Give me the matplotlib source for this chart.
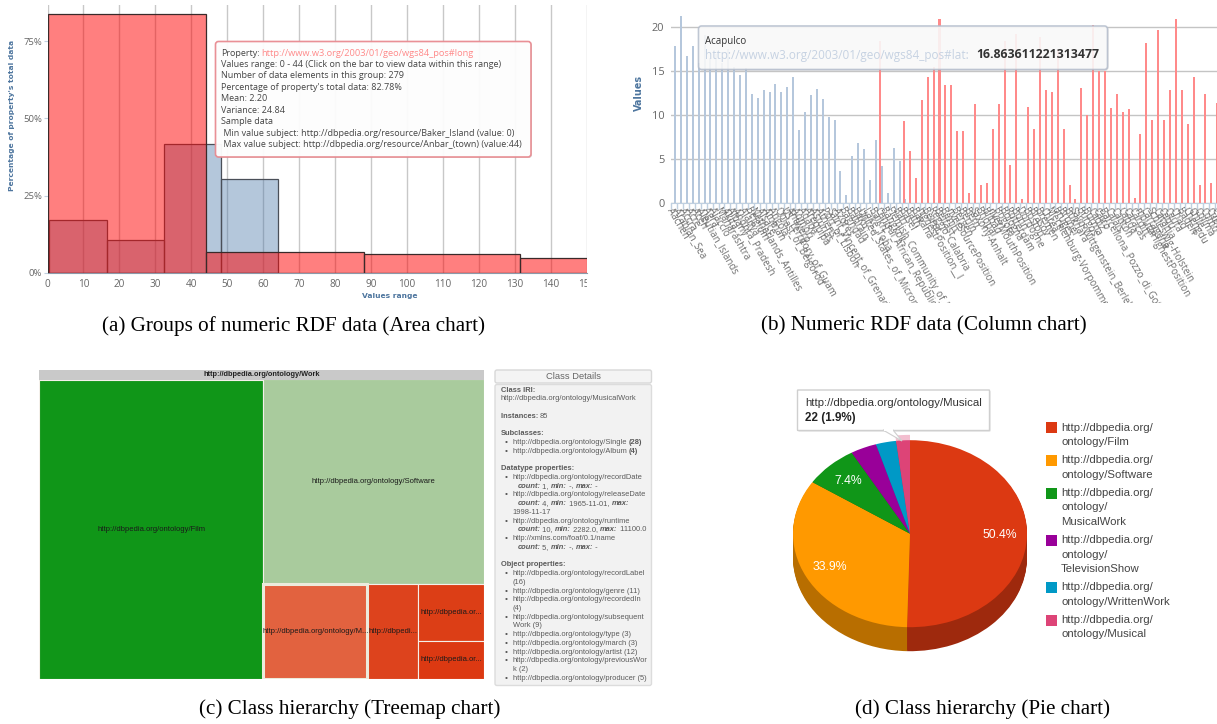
# -*- coding: utf-8 -*-
#%% Get relevent modules

import matplotlib
matplotlib.use("Agg")
import matplotlib.pyplot as plt
from matplotlib.patches import Rectangle, FancyBboxPatch, Polygon
from matplotlib.colors import to_rgb

W = 1217
H = 724

#%% Data

# (a) groups of numeric data
a_red_edges = [0, 44, 88, 131.5, 175]
a_red_pct = [83.7, 6.7, 6.0, 4.7]
a_blue_edges = [0.5, 16.5, 32.3, 48.2, 64]
a_blue_pct = [17, 10.7, 41.7, 30.3]
a_xticks = list(range(0, 160, 10))
a_yticks = [0, 25, 50, 75]
a_yticklabels = ["0%", "25%", "50%", "75%"]
a_tooltip = ["Values range: 0 - 44 (Click on the bar to view data within this range)",
             "Number of data elements in this group: 279",
             "Percentage of property's total data: 82.78%",
             "Mean: 2.20",
             "Variance: 24.84",
             "Sample data",
             " Min value subject: http://dbpedia.org/resource/Baker_Island (value: 0)",
             " Max value subject: http://dbpedia.org/resource/Anbar_(town) (value:44)"]

# (b) numeric data, one category per tick. blue first, red takes over at idx 35
b_blue = [17.85, 21.3, 16.7, 17.85, 16.0, 19.1, 16.5, 17.0, 16.0, 17.5,
          15.5, 14.6, 15.4, 12.45, 11.95, 12.85, 12.65, 13.6, 12.65, 13.2,
          14.4, 8.35, 10.4, 12.35, 12.95, 11.9, 9.75, 9.4, 3.7, 0.95,
          5.4, 6.8, 6.2, 2.6, 7.2, 4.2, 1.15, 6.3, 4.75, 0.45]
b_red_first = [18.4, 0, 0, 0]
b_red = [9.3, 5.95, 2.8, 11.75, 14.3, 15.5, 20.9, 13.4, 13.4, 8.15,
         8.25, 1.1, 11.3, 2.1, 2.3, 8.45, 11.25, 18.4, 4.3, 19.3,
         0.5, 10.9, 8.45, 18.9, 12.85, 12.6, 17.4, 8.45, 2.0, 0.4,
         13.05, 10.0, 20.3, 15.0, 15.0, 10.8, 12.4, 10.4, 10.7, 0.55,
         7.85, 18.25, 9.4, 19.65, 9.4, 12.9, 21.0, 12.9, 9.05, 14.3,
         2.0, 12.4, 2.25, 11.4]
b_labels = ["Aachen", "Arabian_Sea", "Accra", "Acre", "Aceh", "Aleutian_Islands", "Agra", "Ajaccio",
            "Maharashtra", "Akita", "Albany", "Andhra_Pradesh", "Alanya", "Belgium",
            "Netherlands_Antilles", "Alsace", "Amman", "Angola", "Oblast_of_Belgorod",
            "US_Territory_of_Guam", "Antwerp", "Aomori", "Aqaba", "Arequipa", "Asturias", "Athens",
            "Port_of_Lisbon", "Saint_Vincent_of_Grenadines", "Azores", "Baghdad", "Bahrain", "Baku",
            "United_States_of_Micronesia", "Lake_Toba", "Balkh", "Central_African_Republic", "Bangkok",
            "Flemish_Community_of_Belgium", "Bari", "Basel", "Bath", "Bavaria", "highestPosition__l",
            "Beirut", "Reggio_Calabria", "Belfast", "Benin", "riverSourcePosition", "Bergen", "Berlin",
            "Bern", "Saxony-Anhalt", "Bhopal", "Bilbao", "riverMouthPosition", "Bogota", "Bologna",
            "Rotterdam", "Bonn", "Dordogne", "Boston", "Brasov", "Bremen", "Chrea",
            "Mecklenburg-Vorpommern", "Bruges", "Brunei", "Bukhara", "Sayn-Wittgenstein_Berleburg",
            "Burgos", "Burma", "Cadiz", "Cairo", "Barcellona_Pozzo_di_Gotto", "Calais", "Canton",
            "Capua", "Caracas", "Cardiff", "mouthHighestPosition", "Cartagena", "Schleswig-Holstein",
            "Catania", "Cebu", "Ceuta", "Chad", "Baden", "Chengdu", "Chile", "Colima", "Como",
            "Cuba", "Cyprus"]
b_yticks = [0, 5, 10, 15, 20]

# (c) and (d) share the same classes
class_values = [50.4, 33.9, 7.4, 3.6, 2.8, 1.9]
pie_colors = ["#dc3912", "#ff9900", "#109618", "#990099", "#0099c6", "#dd4477"]
tree_colors = ["#109618", "#a9cb9d", "#e2623f", "#dd431d", "#dc3e16", "#dc3912"]
tree_labels = ["http://dbpedia.org/ontology/Film", "http://dbpedia.org/ontology/Software",
               "http://dbpedia.org/ontology/M...", "http://dbpedi...",
               "http://dbpedia.or...", "http://dbpedia.or..."]
legend_labels = [["http://dbpedia.org/", "ontology/Film"],
                 ["http://dbpedia.org/", "ontology/Software"],
                 ["http://dbpedia.org/", "ontology/", "MusicalWork"],
                 ["http://dbpedia.org/", "ontology/", "TelevisionShow"],
                 ["http://dbpedia.org/", "ontology/WrittenWork"],
                 ["http://dbpedia.org/", "ontology/Musical"]]

# class details panel: indent kind and text runs, None is an empty line
details = [("head", [("Class IRI:", "b")]),
           ("head", [("http://dbpedia.org/ontology/MusicalWork", "n")]),
           None,
           ("head", [("Instances: ", "b"), ("85", "n")]),
           None,
           ("head", [("Subclasses:", "b")]),
           ("item", [("http://dbpedia.org/ontology/Single ", "n"), ("(28)", "b")]),
           ("item", [("http://dbpedia.org/ontology/Album ", "n"), ("(4)", "b")]),
           None,
           ("head", [("Datatype properties:", "b")]),
           ("item", [("http://dbpedia.org/ontology/recordDate", "n")]),
           ("sub", [("count:", "bi"), (" 1, ", "n"), ("min:", "bi"), (" -, ", "n"), ("max:", "bi"), (" -", "n")]),
           ("item", [("http://dbpedia.org/ontology/releaseDate", "n")]),
           ("sub", [("count:", "bi"), (" 4, ", "n"), ("min:", "bi"), (" 1965-11-01, ", "n"), ("max:", "bi")]),
           ("wrap", [("1998-11-17", "n")]),
           ("item", [("http://dbpedia.org/ontology/runtime", "n")]),
           ("sub", [("count:", "bi"), (" 10, ", "n"), ("min:", "bi"), (" 2282.0, ", "n"), ("max:", "bi"), (" 11100.0", "n")]),
           ("item", [("http://xmlns.com/foaf/0.1/name", "n")]),
           ("sub", [("count:", "bi"), (" 5, ", "n"), ("min:", "bi"), (" -, ", "n"), ("max:", "bi"), (" -", "n")]),
           None,
           ("head", [("Object properties:", "b")]),
           ("item", [("http://dbpedia.org/ontology/recordLabel", "n")]),
           ("wrap", [("(16)", "n")]),
           ("item", [("http://dbpedia.org/ontology/genre (11)", "n")]),
           ("item", [("http://dbpedia.org/ontology/recordedIn", "n")]),
           ("wrap", [("(4)", "n")]),
           ("item", [("http://dbpedia.org/ontology/subsequent", "n")]),
           ("wrap", [("Work (9)", "n")]),
           ("item", [("http://dbpedia.org/ontology/type (3)", "n")]),
           ("item", [("http://dbpedia.org/ontology/march (3)", "n")]),
           ("item", [("http://dbpedia.org/ontology/artist (12)", "n")]),
           ("item", [("http://dbpedia.org/ontology/previousWor", "n")]),
           ("wrap", [("k (2)", "n")]),
           ("item", [("http://dbpedia.org/ontology/producer (5)", "n")])]

#%% Helpers

fig = plt.figure(figsize=(W / 100, H / 100), dpi=100, facecolor="white")

def px_axes(left, top, right, bottom):
    # axes from picture pixels
    return fig.add_axes([left / W, 1 - bottom / H, (right - left) / W, (bottom - top) / H])

def pt(px):
    return px * 0.72

# overlay in picture pixels for tooltips, legends and captions
over = fig.add_axes([0, 0, 1, 1], zorder=10)
over.set_xlim(0, W)
over.set_ylim(H, 0)
over.axis("off")

def put(x, y, s, size, color="#444444", family="Liberation Sans", **kw):
    kw.setdefault("va", "center")
    return over.text(x, y, s, fontsize=pt(size), color=color, family=family, zorder=20, **kw)

def runs(x, y, parts, size, color, family="Liberation Sans"):
    # text with mixed weights on one line
    renderer = fig.canvas.get_renderer()
    for s, style in parts:
        t = put(x, y, s, size, color, family,
                fontweight="bold" if "b" in style else "normal",
                fontstyle="italic" if "i" in style else "normal")
        x += t.get_window_extent(renderer).width

def box(x0, y0, x1, y1, face, edge, alpha=1.0, lw=1.0, radius=3, shadow=True):
    if shadow:
        over.add_patch(FancyBboxPatch((x0 + 1, y0 + 1), x1 - x0, y1 - y0, boxstyle="round,pad=0,rounding_size=%g" % radius,
                                      fc="#888888", ec="none", alpha=0.3, zorder=15))
    over.add_patch(FancyBboxPatch((x0, y0), x1 - x0, y1 - y0, boxstyle="round,pad=0,rounding_size=%g" % radius,
                                  fc=face, ec=edge, lw=lw, alpha=alpha, zorder=16))

#%% (a) Area chart

ax = px_axes(47.5, 5, 587, 273)
grid_gray = "#c8c8c8"
ax.bar(a_blue_edges[:-1], a_blue_pct, width=[b - a for a, b in zip(a_blue_edges[:-1], a_blue_edges[1:])],
       align="edge", facecolor=(0.27, 0.45, 0.65, 0.4), edgecolor="#4a4f58", linewidth=0.9, zorder=2)
ax.bar(a_red_edges[:-1], a_red_pct, width=[b - a for a, b in zip(a_red_edges[:-1], a_red_edges[1:])],
       align="edge", facecolor=(1, 0, 0, 0.5), edgecolor="#3a2a2a", linewidth=0.9, zorder=3)
ax.set_xlim(0, 149.9)
ax.set_ylim(0, 86.7)
ax.set_xticks(a_xticks)
ax.set_xticklabels([str(v) for v in a_xticks], clip_on=False)
ax.set_yticks(a_yticks)
ax.set_yticklabels(a_yticklabels)
ax.grid(axis="x", color=grid_gray, linewidth=1, zorder=0)
ax.set_axisbelow(True)
ax.tick_params(axis="x", length=0, labelsize=pt(10), labelcolor="#666666", pad=4)
ax.tick_params(axis="y", length=3, color="#c0d0e0", labelsize=pt(9.5), labelcolor="#666666", pad=1)
for side in ["top", "right", "left"]:
    ax.spines[side].set_visible(False)
ax.spines["bottom"].set_color("#8a9aaa")
for lab in ax.get_xticklabels() + ax.get_yticklabels():
    lab.set_family("Open Sans")

put(12, 115, "Percentage of property's total data", 7.5, "#4d759e", "DejaVu Sans", rotation=90,
    ha="center", fontweight="bold")
put(390, 296, "Values range", 7.5, "#4d759e", "DejaVu Sans", ha="center", fontweight="bold")
over.add_patch(Rectangle((587, 276), 12, 14, fc="white", ec="none", zorder=12))

box(215.5, 41.5, 531, 157, "white", "#e88a90", alpha=0.95, lw=1.2)
a_y = 53
put(221, a_y, "Property:", 9.05, "#444444", "Open Sans")
put(261, a_y, "http://www.w3.org/2003/01/geo/wgs84_pos#long", 9.25, "#ff8a8a", "Open Sans")
for i, line in enumerate(a_tooltip):
    put(221, a_y + 11.45 * (i + 1), line, 9.05, "#444444", "Open Sans")

#%% (b) Column chart

ax = px_axes(671.3, 5, 1218, 203)
b_pos = list(range(len(b_labels)))
b_red_all = [0] * 35 + b_red_first + b_red
ax.bar([p + 0.12 for p in b_pos[:len(b_blue)]], b_blue, width=0.34, color="#b5c7dc", zorder=2)
ax.bar([p - 0.12 for p in b_pos[:len(b_red_all)]], b_red_all, width=0.34, color="#ff8a8a", zorder=2)
ax.set_xlim(-0.5, (1218 - 671.3) / 5.91 - 0.5)
ax.set_ylim(0, 198 / 43.9 * 5)
ax.set_yticks(b_yticks)
ax.set_yticklabels([str(v) for v in b_yticks])
ax.grid(axis="y", color="#c4c4c4", linewidth=1, zorder=1)
ax.set_axisbelow(True)
ax.set_xticks([p - 0.5 for p in b_pos], minor=True)
ax.set_xticks(b_pos)
ax.set_xticklabels(b_labels, rotation=-60, ha="left", va="top", rotation_mode="anchor", family="Open Sans")
ax.tick_params(axis="x", which="major", length=0, labelsize=pt(9.8), labelcolor="#6e6e6e", pad=2)
ax.tick_params(axis="x", which="minor", length=4, color="#c0d0e0", width=1)
ax.tick_params(axis="y", length=0, labelsize=pt(11), labelcolor="#666666", pad=5)
for side in ["top", "right", "left"]:
    ax.spines[side].set_visible(False)
ax.spines["bottom"].set_color("#c0d0e0")
for lab in ax.get_yticklabels():
    lab.set_family("Open Sans")

# labels are cut off below the plot, caption sits on top
over.add_patch(Rectangle((600, 303), W - 600, 65, fc="white", ec="none", zorder=12))
put(639, 93, "Values", 9.6, "#4d759e", "DejaVu Sans", rotation=90, ha="center", fontweight="bold")

box(698.5, 26, 1107.5, 69.5, "white", "#b4bdcc", alpha=0.85, lw=1.2)
put(705, 41.3, "Acapulco", 9.8, "#333333", "Open Sans")
put(705, 55, "http://www.w3.org/2003/01/geo/wgs84_pos#lat:", 11.75, "#c6d2e2", "Open Sans")
put(976.5, 55, "16.863611221313477", 12.2, "#333333", "Open Sans", fontweight="bold")

#%% (c) Treemap chart

ax = px_axes(39, 379.5, 484, 679)
film, soft, musical, tv, written, musical2 = class_values
rest = soft + musical + tv + written + musical2
film_w = film / (film + rest)
soft_h = soft / rest
low = musical + tv + written + musical2
mus_w = (1 - film_w) * musical / low
tv_w = (1 - film_w) * tv / low
col_w = 1 - film_w - mus_w - tv_w
col_h = (1 - soft_h) * musical2 / (written + musical2)
low_h = 1 - soft_h
tree_x = [0, film_w, film_w, film_w + mus_w, film_w + mus_w + tv_w, film_w + mus_w + tv_w]
tree_y = [0, low_h, 0, 0, col_h, 0]
tree_w = [film_w, 1 - film_w, mus_w, tv_w, col_w, col_w]
tree_h = [1, soft_h, low_h, low_h, low_h - col_h, col_h]
cells = ax.bar(tree_x, tree_h, width=tree_w, bottom=tree_y, align="edge", color=tree_colors,
               edgecolor="#f4f0ea", linewidth=0.8)
cells[2].set_linewidth(2.2)
cells[2].set_edgecolor("#ecebdc")
cells[2].set_zorder(3)
for x, y, w, h, lab in zip(tree_x, tree_y, tree_w, tree_h, tree_labels):
    ax.text(x + w / 2, y + h / 2, lab, ha="center", va="center", fontsize=pt(7.7), color="#1a1a1a",
            family="Liberation Sans", zorder=5)
ax.set_xlim(0, 1)
ax.set_ylim(0, 1)
ax.axis("off")

over.add_patch(Rectangle((39, 370), 445, 9.5, fc="#c9c9c9", ec="none", zorder=12))
put(261.5, 374.8, "http://dbpedia.org/ontology/Work", 7.4, "#222222", ha="center", fontweight="bold")

# class details box
box(495, 370, 651.5, 383, "#f4f4f4", "#d8d8d8", radius=2, shadow=False)
put(573, 376.7, "Class Details", 9.4, "#666666", ha="center")
box(495, 384.5, 651.5, 685.5, "#f2f2f2", "#dcdcdc", radius=2, shadow=False)
d_x = {"head": 500.7, "item": 512.7, "sub": 517.3, "wrap": 512.7}
for i, line in enumerate(details):
    if line is None:
        continue
    y = 390 + i * 8.74
    kind, parts = line
    if kind == "item":
        put(506, y, "\u2022", 8.3, "#555555", ha="center")
    runs(d_x[kind], y, parts, 7.5, "#5a5a5a")

#%% (d) Pie chart

pie_l, pie_r = 910 - 1.1 * 117, 910 + 1.1 * 117
pie_t, pie_b = 533.7 - 1.15 * 93.5, 533.7 + 1.45 * 93.5
ax = px_axes(pie_l, pie_t, pie_r, pie_b)
dark_colors = [tuple(c * 0.72 for c in to_rgb(col)) for col in pie_colors]
depth_steps = 24
for step in range(depth_steps, 0, -1):
    ax.pie(class_values, colors=dark_colors, startangle=90, counterclock=False,
           center=(0, -step / 93.5), wedgeprops={"linewidth": 0})
# pale ring of the hovered slice
ax.pie(class_values, colors=[(1, 1, 1, 0)] * 5 + [(0.87, 0.27, 0.47, 0.35)], startangle=90, counterclock=False,
       radius=1.057, wedgeprops={"linewidth": 0})
ax.pie(class_values, colors=pie_colors, startangle=90, counterclock=False,
       autopct=lambda v: "%.1f%%" % v if v > 5 else "", pctdistance=0.77,
       textprops={"color": "white", "fontsize": pt(12.3), "family": "Liberation Sans"},
       wedgeprops={"linewidth": 0})
ax.set_aspect("auto")
ax.set_xlim(-1.1, 1.1)
ax.set_ylim(-1.45, 1.15)

# tooltip with pointer
box(797.5, 390, 989.5, 430.5, "white", "#cfcfcf", radius=0.5)
over.add_patch(Polygon([[883, 430], [893, 430], [902, 441]], closed=True, fc="white", ec="#cfcfcf", lw=0.8, zorder=17))
over.add_patch(Rectangle((883.5, 429), 9.5, 2, fc="white", ec="none", zorder=18))
put(805, 402.7, "http://dbpedia.org/ontology/Musical", 11.35, "#333333")
put(805, 417.5, "22 (1.9%)", 11.6, "#222222", fontweight="bold")

# legend
y = 427.7
for col, lines in zip(pie_colors, legend_labels):
    over.add_patch(Rectangle((1046, y - 5.5), 10.7, 11, fc=col, ec="none", zorder=14))
    for s in lines:
        put(1061, y, s, 11.4, "#444444")
        y += 14.2
    y += 4.4

#%% Captions

serif = "Liberation Serif"
put(294, 326, "(a) Groups of numeric RDF data (Area chart)", 21.2, "black", serif, ha="center")
put(923.5, 326, "(b) Numeric RDF data (Column chart)", 21.2, "black", serif, ha="center")
put(350, 709, "(c) Class hierarchy (Treemap chart)", 21.2, "black", serif, ha="center")
put(982.5, 709, "(d) Class hierarchy (Pie chart)", 21.2, "black", serif, ha="center")

fig.savefig("out.png", dpi=100)
